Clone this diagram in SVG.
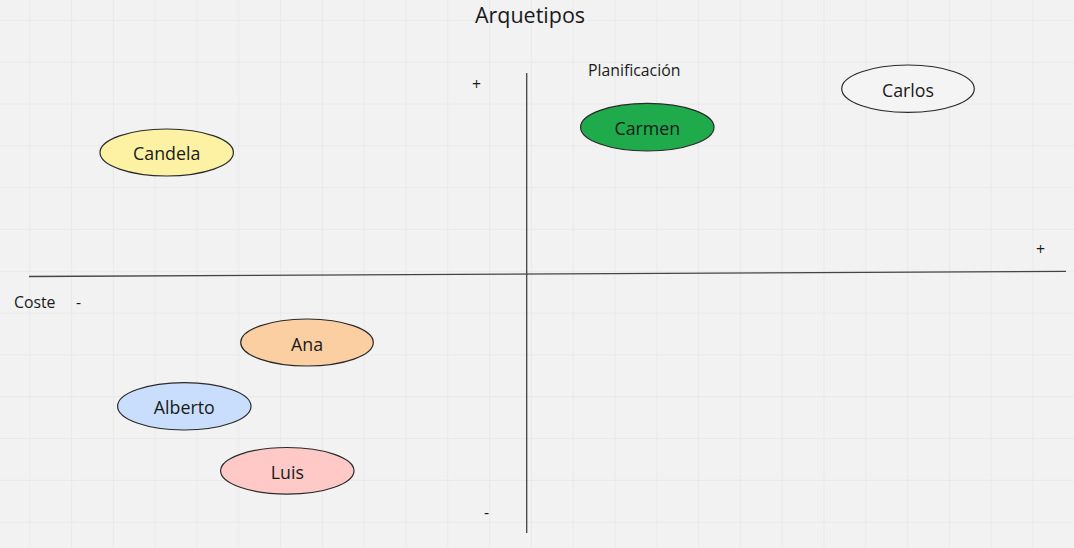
<svg xmlns="http://www.w3.org/2000/svg" width="1074" height="548" viewBox="0 0 1074 548">
<defs>
<pattern id="grid" x="29.3" y="20" width="41.8" height="41.8" patternUnits="userSpaceOnUse">
<path d="M0 0V41.8M0 0H41.8" fill="none" stroke="#e2e2e2" stroke-width="1"/>
</pattern>
<style>
text{font-family:"Open Sans","Noto Sans","Liberation Sans",sans-serif;fill:#1a1a1a}
.name{font-size:17.8px;text-anchor:middle;dominant-baseline:central}
.lbl{font-size:15.8px}
.node ellipse{stroke:#2a2a2a;stroke-width:1.2}
.axis{stroke:#444;stroke-width:1.3;fill:none}
</style>
</defs>
<rect width="1074" height="548" fill="#f2f2f2"/>
<rect width="1074" height="548" fill="url(#grid)"/>
<g id="connectors">
<path class="axis" d="M29 276.5L1066 271.3"/>
<path class="axis" d="M526.7 73V533"/>
</g>
<g id="labels">
<text x="530" y="22.5" font-size="21.5" text-anchor="middle">Arquetipos</text>
<text class="lbl" x="588" y="76">Planificación</text>
<text class="lbl" x="14" y="308">Coste</text>
<text class="lbl" x="76" y="308">-</text>
<text class="lbl" x="472" y="90">+</text>
<text class="lbl" x="1036" y="255">+</text>
<text class="lbl" x="484" y="518">-</text>
</g>
<g id="candela" class="node"><ellipse cx="166.7" cy="152.5" rx="66.7" ry="23.5" fill="#fdf1a3"/><text class="name" x="166.7" y="153">Candela</text></g>
<g id="carmen" class="node"><ellipse cx="647.3" cy="127.2" rx="66.7" ry="23.8" fill="#1faa4b"/><text class="name" x="647.3" y="128">Carmen</text></g>
<g id="carlos" class="node"><ellipse cx="908" cy="88.7" rx="66.3" ry="23.7" fill="#f4f4f4"/><text class="name" x="908" y="89.5">Carlos</text></g>
<g id="ana" class="node"><ellipse cx="307" cy="342.5" rx="66.3" ry="23.5" fill="#fccfa2"/><text class="name" x="307" y="343.5">Ana</text></g>
<g id="alberto" class="node"><ellipse cx="184.3" cy="406.3" rx="66.7" ry="23.7" fill="#c9defc"/><text class="name" x="184.3" y="407">Alberto</text></g>
<g id="luis" class="node"><ellipse cx="287.3" cy="470.8" rx="66.7" ry="23.3" fill="#ffc9c7"/><text class="name" x="287.3" y="471.5">Luis</text></g>
</svg>
